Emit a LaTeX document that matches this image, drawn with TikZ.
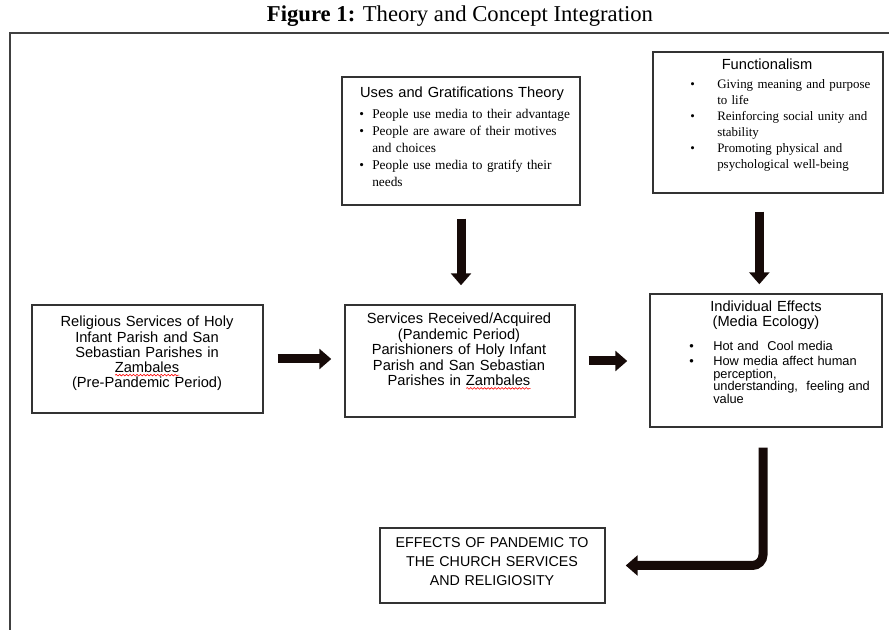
\documentclass[tikz,border=0pt]{standalone}
\usepackage{fontspec}
\setmainfont{Liberation Serif}
\setsansfont{Liberation Sans}
\usetikzlibrary{arrows.meta,positioning,decorations.pathmorphing}
\definecolor{arrowdark}{RGB}{22,10,8}
\newlength{\bulind}
\newsavebox{\spellbox}
\newcommand{\itm}[1]{\noindent\hangindent=\bulind\hangafter=1\makebox[\bulind][l]{\textbullet}#1\par}
\newcommand{\spellerr}[1]{\leavevmode\sbox{\spellbox}{#1}\rlap{\tikz[baseline=0pt]\draw[red,line width=.45pt,decorate,decoration={snake,amplitude=.6pt,segment length=2.6pt}] (0pt,-1.9pt) -- (\wd\spellbox,-1.9pt);}\usebox{\spellbox}}
\begin{document}
\begin{tikzpicture}[x=0.75pt,y=-0.75pt,
  box/.style={draw=black!80,line width=1.1pt,fill=white,inner sep=0pt},
  head/.style={font=\sffamily\fontsize{11}{11.5}\selectfont,align=center,inner sep=0pt,anchor=base},
  blist/.style={align=left,inner sep=0pt,anchor=base west},
  bigarrow/.style={draw=arrowdark,line width=6.75pt,-{Triangle[width=15pt,length=9pt]}}]
\useasboundingbox (0,0) rectangle (889,630);
\draw[black!75,line width=1.5pt] (10,630) -- (10,33) -- (889,33);
\node[anchor=base,inner sep=0pt,font=\fontsize{17}{20}\selectfont] (title) at (460,22) {\textbf{Figure 1:} Theory and Concept Integration};
% boxes
\node[box,minimum width=178.5pt,minimum height=96pt] (uses) at (461,141) {};
\node[box,minimum width=172.5pt,minimum height=105.75pt] (func) at (768,122.5) {};
\node[box,minimum width=173.25pt,minimum height=81pt] (relig) at (147.5,359) {};
\node[box,minimum width=172.5pt,minimum height=84pt] (serv) at (460,361) {};
\node[box,minimum width=174pt,minimum height=99.75pt] (indiv) at (766,360.5) {};
\node[box,minimum width=168.75pt,minimum height=56.25pt] (effects) at (492.5,565.5) {};
% texts
\node[head,text width=165pt] (usesTitle) at (462,98) {Uses and Gratifications Theory};
\node[blist,text width=170pt,font=\fontsize{10}{12.75}\selectfont] (usesList) at (359,119)
  {\setlength{\bulind}{9.75pt}\itm{People use media to their advantage}
   \itm{People are aware of their motives\newline and choices}
   \itm{People use media to gratify their\newline needs}};
\node[head,text width=160pt] (funcTitle) at (767,70) {Functionalism};
\node[blist,text width=150pt,font=\fontsize{9.7}{12}\selectfont] (funcList) at (690,89)
  {\setlength{\bulind}{20.25pt}\itm{Giving meaning and purpose\newline to life}
   \itm{Reinforcing social unity and\newline stability}
   \itm{Promoting physical and\newline psychological well-being}};
\node[head,text width=168pt,font=\sffamily\fontsize{11}{11.4}\selectfont] (religText) at (147,327)
  {Religious Services of Holy\\Infant Parish and San\\Sebastian Parishes in\\\spellerr{Zambales}\\(Pre-Pandemic Period)};
\node[head,text width=168pt,font=\sffamily\fontsize{11}{11.6}\selectfont] (servText) at (459,324)
  {Services Received/Acquired\\(Pandemic Period)\\Parishioners of Holy Infant\\Parish and San Sebastian\\Parishes in \spellerr{Zambales}};
\node[head,text width=168pt,font=\sffamily\fontsize{11}{11.25}\selectfont] (indivTitle) at (766,312)
  {Individual Effects\\(Media Ecology)};
\node[blist,text width=145pt,font=\sffamily\fontsize{9.6}{9.5}\selectfont] (indivList) at (689,351)
  {\setlength{\bulind}{18pt}\setlength{\parskip}{1.5pt}\itm{Hot and\ \ Cool media}
   \itm{How media affect human\newline perception,\newline understanding,\ \ feeling and\newline value}};
\node[head,text width=165pt,font=\sffamily\fontsize{10.7}{14.25}\selectfont] (effText) at (492,547)
  {EFFECTS OF PANDEMIC TO\\THE CHURCH SERVICES\\AND RELIGIOSITY};
% arrows
\draw[bigarrow,shorten <=9.75pt,shorten >=14.25pt] (uses.south) -- (uses.south |- serv.north);
\draw[bigarrow,shorten <=13.5pt,shorten >=6.75pt] ([xshift=-6.5pt]func.south) -- ([xshift=-6.5pt]func.south |- indiv.north);
\draw[bigarrow,shorten <=10.5pt,shorten >=9.75pt] (relig.east) -- (relig.east -| serv.west);
\draw[bigarrow,shorten <=9.75pt,shorten >=16.5pt] (serv.east) -- (serv.east -| indiv.west);
\draw[bigarrow,rounded corners=8pt,shorten <=15pt,shorten >=15pt] ([xshift=-2.25pt]indiv.south) |- (effects.east);
\end{tikzpicture}
\end{document}
